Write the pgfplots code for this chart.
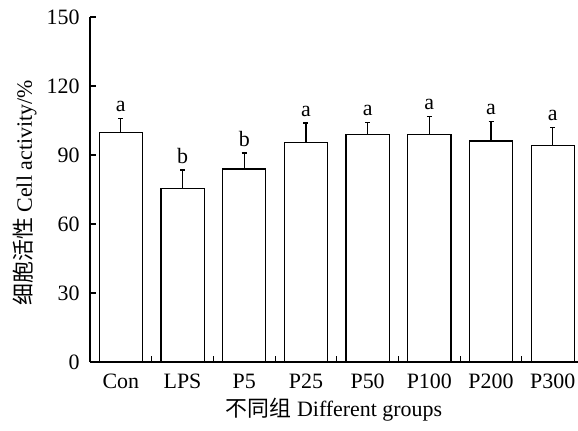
\documentclass[border=0pt]{standalone}
\usepackage{pgfplots}
\pgfplotsset{compat=1.18}
\usepackage{fontspec}
\setmainfont{Liberation Serif}
\newfontfamily\cjk{Noto Sans CJK SC}
\begin{document}
\begin{tikzpicture}[x=1bp,y=1bp]
\begin{axis}[
  scale only axis,
  width=488bp, height=345bp,
  xmin=-0.5, xmax=7.41,
  ymin=0, ymax=150,
  axis lines*=left,
  axis line style={line width=1.2pt},
  every tick/.style={black, line width=1.1pt},
  xtick={0,...,7},
  xticklabels={Con,LPS,P5,P25,P50,P100,P200,P300},
  major x tick style={draw=none},
  minor xtick={0.5,1.5,...,6.5},
  minor tick length=6bp,
  ytick={0,30,60,90,120,150},
  yticklabels={0,30,60,90,120,150},
  major tick length=6bp,
  tick align=inside,
  xticklabel style={font=\fontsize{22}{26}\selectfont, anchor=base, yshift=-26bp},
  yticklabel style={font=\fontsize{22}{26}\selectfont, anchor=east, xshift=-7bp},
  xlabel={{\cjk 不同组} Different groups},
  ylabel={{\cjk 细胞活性} Cell activity/\%},
  label style={font=\fontsize{22}{26}\selectfont},
  xlabel style={at={(axis description cs:0.5,0)}, anchor=base, yshift=-54bp},
  ylabel style={at={(axis description cs:-0.133,0.49)}, anchor=center},
  clip=false,
]
\addplot[ybar, bar width=0.7, fill=white, draw=black, line width=1.2pt,
  error bars/.cd, y dir=plus, y explicit,
  error bar style={line width=1.2pt},
  error mark options={rotate=90, mark size=2.5bp, line width=1.2pt}]
  coordinates {
  (0,99.7) +- (0,6.0)
  (1,75.5) +- (0,8.0)
  (2,83.9) +- (0,7.0)
  (3,95.6) +- (0,8.3)
  (4,99.0) +- (0,5.2)
  (5,99.0) +- (0,7.7)
  (6,96.1) +- (0,8.5)
  (7,94.2) +- (0,7.8)
  };
\foreach \i/\v/\l in {0/105.7/a,1/83.5/b,2/90.9/b,3/103.9/a,4/104.2/a,5/106.7/a,6/104.6/a,7/102.0/a}{
  \edef\temp{\noexpand\node[anchor=base, font=\noexpand\fontsize{22}{26}\noexpand\selectfont] at (axis cs:\i,\v+3) {\l};}
  \temp
}
\end{axis}
\pgfresetboundingbox
\path[use as bounding box] ([xshift=-90bp,yshift=-68bp]current axis.south west) rectangle ([yshift=17bp]current axis.north east);
\end{tikzpicture}
\end{document}
